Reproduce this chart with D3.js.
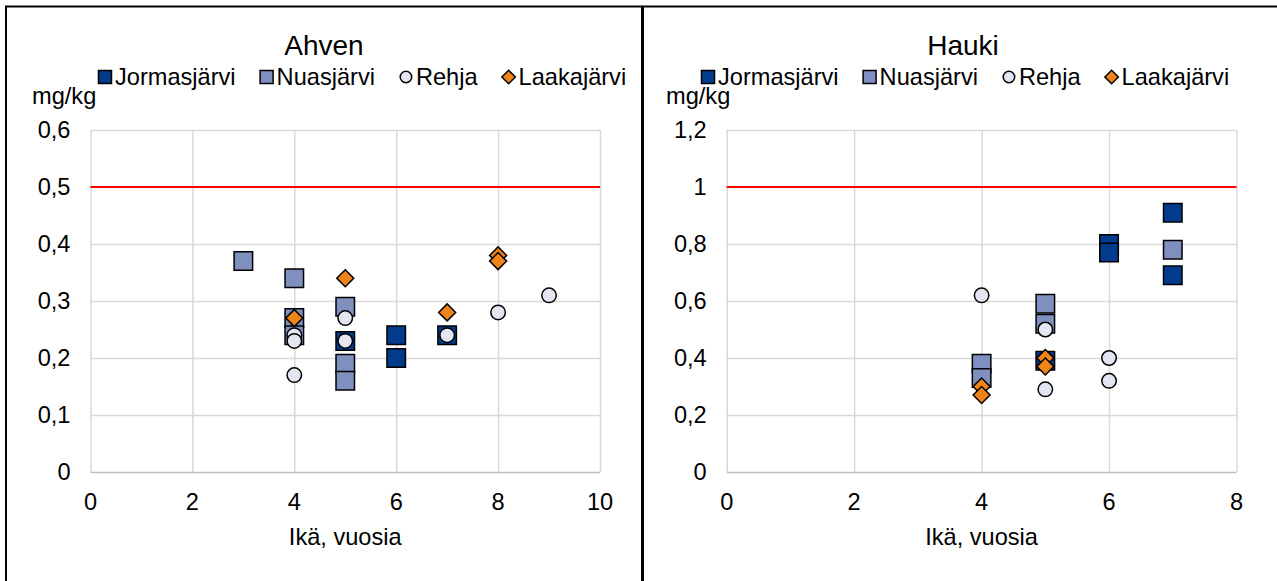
<!DOCTYPE html>
<html>
<head>
<meta charset="utf-8">
<script src="https://cdn.jsdelivr.net/npm/d3@7"></script>
<style>
    body { margin: 0; background: #fff; }
    svg text { font-family: "Liberation Sans", Arial, sans-serif; fill: #000; }
</style>
</head>
<body>
<div id="visual"></div>
<script>
var w = 1277, h = 581;
var svg;

// series names and colours
var seriesNames = ["Jormasjärvi", "Nuasjärvi", "Rehja", "Laakajärvi"];
var seriesColors = ["#023a8c", "#7f8fbf", "#e3e6f0", "#ef841b"];
var seriesShapes = ["square", "square", "circle", "diamond"];

// Ahven: [age, mg/kg]
var ahvenJormasjarvi = [[5, 0.23], [6, 0.24], [6, 0.20], [7, 0.24]];
var ahvenNuasjarvi = [[3, 0.37], [4, 0.34], [4, 0.27], [4, 0.24], [5, 0.29], [5, 0.19], [5, 0.16]];
var ahvenRehja = [[4, 0.24], [4, 0.23], [4, 0.17], [5, 0.27], [5, 0.23], [7, 0.24], [8, 0.28], [9, 0.31]];
var ahvenLaakajarvi = [[4, 0.27], [5, 0.34], [7, 0.28], [8, 0.38], [8, 0.37]];

// Hauki: [age, mg/kg]
var haukiJormasjarvi = [[5, 0.39], [6, 0.80], [6, 0.77], [7, 0.91], [7, 0.69]];
var haukiNuasjarvi = [[4, 0.38], [4, 0.33], [5, 0.59], [5, 0.52], [7, 0.78]];
var haukiRehja = [[4, 0.62], [5, 0.50], [5, 0.29], [6, 0.40], [6, 0.32]];
var haukiLaakajarvi = [[4, 0.30], [4, 0.27], [5, 0.40], [5, 0.37]];

// axis ticks and limit lines
var ahvenXTicks = [0, 2, 4, 6, 8, 10];
var ahvenYTicks = [0, 0.1, 0.2, 0.3, 0.4, 0.5, 0.6];
var haukiXTicks = [0, 2, 4, 6, 8];
var haukiYTicks = [0, 0.2, 0.4, 0.6, 0.8, 1, 1.2];
var limits = [0.5, 1.0];

var panels = [
    {
        title: "Ahven",
        series: [ahvenJormasjarvi, ahvenNuasjarvi, ahvenRehja, ahvenLaakajarvi],
        xTicks: ahvenXTicks, yTicks: ahvenYTicks, limit: limits[0],
        frameX: 6, frameW: 636, plotL: 90.5, plotR: 600, legendX: 98, unitX: 32
    },
    {
        title: "Hauki",
        series: [haukiJormasjarvi, haukiNuasjarvi, haukiRehja, haukiLaakajarvi],
        xTicks: haukiXTicks, yTicks: haukiYTicks, limit: limits[1],
        frameX: 643, frameW: 640, plotL: 726.7, plotR: 1236.5, legendX: 701, unitX: 666
    }
];

var plotTop = 130, plotBottom = 472;
var fontSize = 23.6;

initialize();

function initialize() {
    svg = d3.select("#visual")
        .append("svg")
        .attr("width", w)
        .attr("height", h);
    panels.forEach(function(p) {
        drawPanel(p);
    });
}

function formatNum(d) {
    return String(d).replace(".", ",");
}

function markerPath(shape, size) {
    if (shape === "circle") {
        return d3.symbol().type(d3.symbolCircle).size(Math.PI * size * size / 4)();
    }
    if (shape === "diamond") {
        var s = size / Math.SQRT2;
        return d3.symbol().type(d3.symbolSquare).size(s * s)();
    }
    return d3.symbol().type(d3.symbolSquare).size(size * size)();
}

function markerSize(shape) {
    if (shape === "circle") return 14.5;
    if (shape === "diamond") return 17;
    return 18.5;
}

function drawPanel(p) {
    var g = svg.append("g");

    g.append("rect")
        .attr("x", p.frameX)
        .attr("y", 6.5)
        .attr("width", p.frameW)
        .attr("height", 620)
        .attr("fill", "#fff")
        .attr("stroke", "#000")
        .attr("stroke-width", 2);

    var x = d3.scaleLinear()
        .domain([p.xTicks[0], p.xTicks[p.xTicks.length - 1]])
        .range([p.plotL, p.plotR]);
    var y = d3.scaleLinear()
        .domain([p.yTicks[0], p.yTicks[p.yTicks.length - 1]])
        .range([plotBottom, plotTop]);

    // grid
    g.append("g")
        .attr("transform", "translate(0," + plotBottom + ")")
        .call(d3.axisBottom(x).tickValues(p.xTicks).tickSize(-(plotBottom - plotTop)).tickFormat(""))
        .call(function(a) {
            a.select(".domain").remove();
            a.selectAll("line").attr("stroke", "#d9d9d9").attr("stroke-width", 1.5);
        });
    g.append("g")
        .attr("transform", "translate(" + p.plotL + ",0)")
        .call(d3.axisLeft(y).tickValues(p.yTicks).tickSize(-(p.plotR - p.plotL)).tickFormat(""))
        .call(function(a) {
            a.select(".domain").remove();
            a.selectAll("line").attr("stroke", function(d) {
                return d === 0 ? "#bfbfbf" : "#d9d9d9";
            }).attr("stroke-width", 1.5);
        });

    // tick labels
    g.selectAll(".ylab")
        .data(p.yTicks)
        .enter()
        .append("text")
        .attr("class", "ylab")
        .attr("x", p.plotL - 20)
        .attr("y", function(d) { return y(d); })
        .attr("dy", "0.35em")
        .attr("text-anchor", "end")
        .attr("font-size", fontSize)
        .text(formatNum);
    g.selectAll(".xlab")
        .data(p.xTicks)
        .enter()
        .append("text")
        .attr("class", "xlab")
        .attr("x", function(d) { return x(d); })
        .attr("y", 510)
        .attr("text-anchor", "middle")
        .attr("font-size", fontSize)
        .text(formatNum);

    g.append("text")
        .attr("x", (p.plotL + p.plotR) / 2)
        .attr("y", 545)
        .attr("text-anchor", "middle")
        .attr("font-size", fontSize)
        .text("Ikä, vuosia");
    g.append("text")
        .attr("x", p.unitX)
        .attr("y", 104)
        .attr("font-size", fontSize)
        .text("mg/kg");
    g.append("text")
        .attr("x", p.frameX + p.frameW / 2)
        .attr("y", 55)
        .attr("text-anchor", "middle")
        .attr("font-size", 28)
        .text(p.title);

    // limit line
    g.append("line")
        .attr("x1", p.plotL)
        .attr("x2", p.plotR)
        .attr("y1", y(p.limit))
        .attr("y2", y(p.limit))
        .attr("stroke", "#ff0000")
        .attr("stroke-width", 2.2);

    // points
    p.series.forEach(function(data, i) {
        g.selectAll(".pt-" + i)
            .data(data)
            .enter()
            .append("path")
            .attr("class", "pt-" + i)
            .attr("d", markerPath(seriesShapes[i], markerSize(seriesShapes[i])))
            .attr("transform", function(d) {
                var t = "translate(" + x(d[0]) + "," + y(d[1]) + ")";
                return seriesShapes[i] === "diamond" ? t + " rotate(45)" : t;
            })
            .attr("fill", seriesColors[i])
            .attr("stroke", "#000")
            .attr("stroke-width", 1.5);
    });

    drawLegend(g, p);
}

function drawLegend(g, p) {
    var cx = p.legendX;
    seriesNames.forEach(function(name, i) {
        var shape = seriesShapes[i];
        var size = shape === "square" ? 13 : (shape === "circle" ? 11.5 : 13.5);
        g.append("path")
            .attr("d", markerPath(shape, size))
            .attr("transform", "translate(" + (cx + 7) + ",77)" + (shape === "diamond" ? " rotate(45)" : ""))
            .attr("fill", seriesColors[i])
            .attr("stroke", "#000")
            .attr("stroke-width", 1.5);
        var t = g.append("text")
            .attr("x", cx + 17)
            .attr("y", 85)
            .attr("font-size", fontSize)
            .text(name);
        cx = cx + 17 + t.node().getComputedTextLength() + 24;
    });
}
</script>
</body>
</html>
